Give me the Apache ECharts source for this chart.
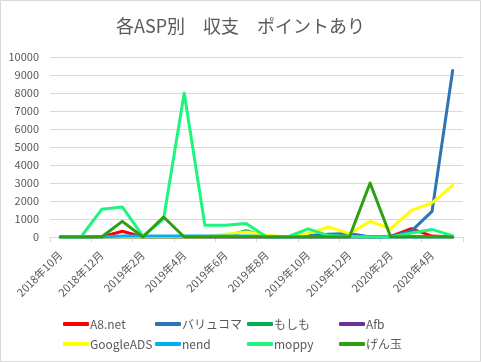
<!DOCTYPE html>
<html>
<head>
<meta charset="utf-8">
<script src="https://cdn.jsdelivr.net/npm/echarts@6/dist/echarts.min.js"></script>
<style>
html,body{margin:0;padding:0;background:#fff;}
#c{width:481px;height:362px;}
</style>
</head>
<body>
<div id="c"></div>
<script>
const categories = ['2018年10月','2018年11月','2018年12月','2019年1月','2019年2月','2019年3月','2019年4月','2019年5月','2019年6月','2019年7月','2019年8月','2019年9月','2019年10月','2019年11月','2019年12月','2020年1月','2020年2月','2020年3月','2020年4月','2020年5月'];
const yTicks = [0,1000,2000,3000,4000,5000,6000,7000,8000,9000,10000];
const a8 =       [0,0,0,320,0,0,0,0,0,0,0,0,0,0,0,0,30,470,50,0];
const valuecommerce = [0,0,0,0,0,0,0,0,0,0,0,0,80,150,200,0,30,330,1420,9250];
const moshimo =  [0,0,0,0,0,0,0,0,50,350,0,0,0,0,0,0,0,0,0,0];
const afb =      [0,0,0,0,0,0,0,0,0,0,0,0,0,0,0,0,0,0,0,0];
const googleads = [0,0,0,0,0,0,0,0,150,280,100,0,200,560,190,870,460,1480,1900,2870];
const nend =     [0,0,20,50,50,50,50,50,50,50,30,0,0,0,0,0,0,0,0,0];
const moppy =    [0,0,1540,1670,50,1000,8000,650,650,750,0,0,450,80,30,0,0,220,420,60];
const gendama =  [0,0,0,870,0,1110,0,0,0,0,0,0,0,0,0,3000,0,0,0,0];

const names = ['A8.net','バリュコマ','もしも','Afb','GoogleADS','nend','moppy','げん玉'];
const dataList = [a8, valuecommerce, moshimo, afb, googleads, nend, moppy, gendama];
const colors = ['#FF0000','#2E75B6','#00B050','#7030A0','#FFFF00','#00B0F0','#1EF57F','#2CA010'];

const font = '"Noto Sans CJK JP", "Noto Sans", sans-serif';
const txt = '#595959';

const series = names.map((n,i)=>({
  name:n, type:'line', data:dataList[i], symbol:'none', smooth:false,
  lineStyle:{width:3, color:colors[i], cap:'round', join:'round'},
  itemStyle:{color:colors[i]}, z: 2+i
}));

const colX = [60,152,244,336];
const legends = colX.map((x,c)=>({
  orient:'vertical', left:x-2, top:313, itemGap:8,
  itemWidth:26, itemHeight:4, icon:'roundRect',
  data:[names[c], names[c+4]],
  textStyle:{color:txt, fontSize:12, fontFamily:font, padding:[0,0,0,-4]},
  selectedMode:false
}));

const chart = echarts.init(document.getElementById('c'), null, {renderer:'canvas'});
chart.setOption({
  animation:false,
  backgroundColor:'#fff',
  title:{text:'各ASP別　収支　ポイントあり', left:'center', top:12,
    textStyle:{color:txt, fontSize:18, fontWeight:'normal', fontFamily:font}},
  legend:legends,
  grid:{left:50, right:18, top:57, bottom:125, containLabel:false},
  xAxis:{type:'category', data:categories, boundaryGap:true,
    axisLine:{lineStyle:{color:'#d9d9d9', width:1}},
    axisTick:{show:true, interval:1, length:5, lineStyle:{color:'#d9d9d9'}},
    axisLabel:{interval:1, rotate:45, color:txt, fontSize:11, fontFamily:font, margin:16},
    splitLine:{show:false}},
  yAxis:{type:'value', min:yTicks[0], max:yTicks[yTicks.length-1], interval:1000,
    axisLine:{show:false}, axisTick:{show:false},
    axisLabel:{color:txt, fontSize:11, fontFamily:font, margin:11, formatter:v=>String(v)},
    splitLine:{lineStyle:{color:'#d9d9d9', width:1}}},
  graphic:[{type:'rect', shape:{x:0.5,y:0.5,width:480,height:361}, style:{fill:null, stroke:'#d9d9d9', lineWidth:1}, silent:true}],
  series:series
});
</script>
</body>
</html>
